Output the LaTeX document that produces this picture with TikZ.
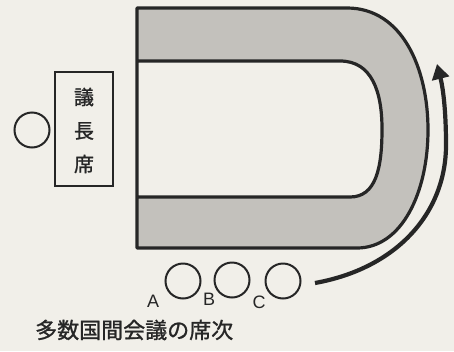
\documentclass[tikz,border=0pt]{standalone}
\usepackage{fontspec}
\setmainfont{Liberation Sans}
\newfontfamily\jpfont{Noto Sans CJK JP}[FakeBold=1.2]
\usetikzlibrary{arrows.meta}
\definecolor{paper}{HTML}{F1EFE9}
\definecolor{ink}{HTML}{262626}
\definecolor{tablefill}{HTML}{C3C1BC}
\tikzset{
  seat/.style={draw=ink, line width=2pt, circle, minimum size=35pt, inner sep=0pt},
  letter/.style={text=ink, font=\fontsize{18}{18}\selectfont, inner sep=0pt},
  jp/.style={text=ink, font=\jpfont\fontsize{20}{20}\selectfont, inner sep=0pt},
  jpcap/.style={text=ink, font=\jpfont\fontsize{22}{22}\selectfont, inner sep=0pt},
  chairbox/.style={draw=ink, line width=2.6pt, minimum width=58pt, minimum height=114pt, inner sep=0pt},
  tablepath/.style={draw=ink, line width=3.2pt, fill=tablefill, even odd rule, line join=round},
  turn/.style={draw=ink, line width=4.2pt, -{Triangle[length=15pt,width=17pt]}}
}
\begin{document}
\begin{tikzpicture}[x=1pt,y=-1pt]
\fill[paper] (0,0) rectangle (454,351);
\useasboundingbox (0,0) rectangle (454,351);
% U-shaped table
\path[tablepath]
  (137,8) -- (347,8) .. controls (402,8) and (428,68) .. (428,130)
  .. controls (428,192) and (402,248) .. (357,248) -- (137,248) -- cycle
  (137,61) -- (340,61) .. controls (372,61) and (382,92) .. (382,129)
  .. controls (382,168) and (376,197) .. (350,197) -- (137,197) -- cycle;
% chairman
\node[chairbox] (chair) at (84,129) {};
\node[jp] (c1) at (84,97) {議};
\node[jp] (c2) at (84,131) {長};
\node[jp] (c3) at (84,164) {席};
\node[seat] (pres) at (32,130) {};
% delegates
\node[seat] (sa) at (183,281) {};
\node[seat] (sb) at (232,280) {};
\node[seat] (sc) at (283,281) {};
\node[letter] (la) at (153,301) {A};
\node[letter] (lb) at (209,299) {B};
\node[letter] (lc) at (259,302) {C};
% arrow
\coordinate (as) at (315,283);
\coordinate (am) at (446,145);
\coordinate (ae) at (437,64);
\draw[turn] (as) .. controls (398,268) and (446,212) .. (am)
  .. controls (446,110) and (443,88) .. (ae);
% caption
\node[jpcap, anchor=west] (cap) at (35,330) {多数国間会議の席次};
\end{tikzpicture}
\end{document}
